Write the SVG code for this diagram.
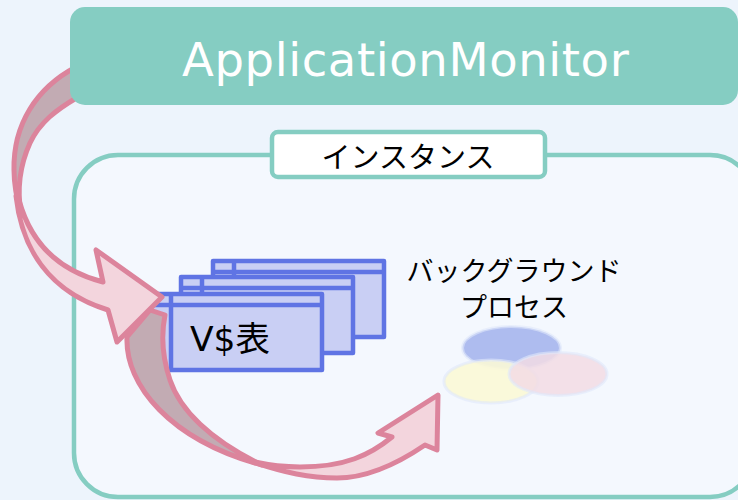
<svg xmlns="http://www.w3.org/2000/svg" width="738" height="500" viewBox="0 0 738 500">
<style>
.t{font-family:"DejaVu Sans","Noto Sans CJK JP",sans-serif;fill:#000}
.j{font-family:"Noto Sans CJK JP","DejaVu Sans",sans-serif;fill:#000;text-anchor:middle}
.w{fill:#c9cff4;stroke:#5f74e4;stroke-width:4.500;stroke-linejoin:round}
.l{fill:none;stroke:#5f74e4;stroke-width:4.500}
.r{stroke:#dc849c;stroke-width:5;stroke-linejoin:round}
.b{fill:#c2abb3}
.f{fill:#f3d5dd}
.e{stroke:#dfe8fa;stroke-width:3;stroke-opacity:.6}
</style>
<rect width="738" height="500" fill="#edf4fc"/>
<g id="instance">
<rect x="74" y="155" width="680" height="342" rx="44" fill="#f4f8fe" stroke="#85cdc2" stroke-width="4.500"/>
<rect x="272" y="132" width="273" height="45" rx="6" fill="#fff" stroke="#85cdc2" stroke-width="4.500"/>
<text class="j" x="408" y="168" font-size="29">インスタンス</text>
</g>
<g id="vtable">
<g id="window-back"><rect class="w" x="213" y="261" width="171" height="76"/><path class="l" d="M234,261V276M213,272H384"/></g>
<g id="window-middle"><rect class="w" x="181" y="277" width="172" height="76"/><path class="l" d="M202,277V293M181,288H353"/></g>
<g id="window-front"><rect class="w" x="150" y="294" width="172" height="76"/><path class="l" d="M171,294V370M150,305H322"/>
<text class="t" x="190" y="351" font-size="34.500">V$表</text></g>
</g>
<g id="background-process">
<ellipse class="e" cx="511.500" cy="348" rx="49" ry="21.500" fill="#aebcef"/>
<ellipse class="e" cx="491" cy="381.500" rx="47" ry="21.500" fill="#fbf8d6" fill-opacity=".9"/>
<ellipse class="e" cx="558" cy="374" rx="49" ry="21.500" fill="#f2dce4" fill-opacity=".85"/>
<text class="j" x="514" y="281" font-size="27">バックグラウンド</text>
<text class="j" x="514" y="317" font-size="27">プロセス</text>
</g>
<g id="connectors">
<path class="r b" d="M76,67C36,88 13,125 14,170C14,186 17,200 21,214C17,190 20,165 30,143C40,122 56,110 78,97Z"/>
<path class="r f" d="M16,196C22,250 50,292 108,310L117,342L162,297L96,250L103,282C64,272 32,248 19,200Z"/>
<path class="r b" d="M165,315L150,310L127,337C125,385 170,440 262,465C210,440 180,410 170,380C164,362 160,340 165,315Z"/>
<path class="r f" d="M250,461C285,473 310,478 337,478C370,478 400,462 425,445L437,450L438,395L378,433L392,437C370,455 345,467 300,467C285,467 272,466 250,461Z"/>
</g>
<g id="application-monitor">
<rect x="70" y="7" width="668" height="98" rx="15" fill="#85cdc2"/>
<text x="182" y="76" font-family="DejaVu Sans,sans-serif" font-size="46.500" letter-spacing=".6" fill="#fff">ApplicationMonitor</text>
</g>
</svg>
